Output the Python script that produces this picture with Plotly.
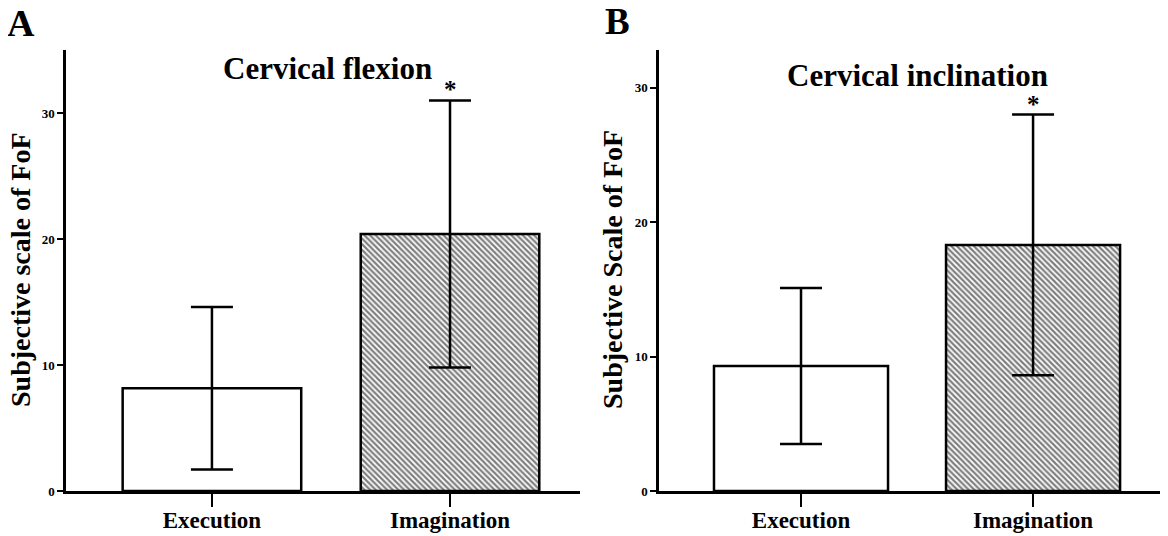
import plotly.graph_objects as go

conditions = ["Execution", "Imagination"]

# panel A - cervical flexion
flexion_mean = [8.15, 20.4]
flexion_sd = [6.45, 10.6]

# panel B - cervical inclination
inclination_mean = [9.3, 18.3]
inclination_sd = [5.8, 9.7]

y_ticks = [0, 10, 20, 30]

# the page body adds an 8px margin around the figure
OFF = 8
W, H = 1168 - OFF, 536 - OFF
serif = "Liberation Serif"


def px_x(p):
    return (p - OFF) / W


def px_y(p):
    return 1 - (p - OFF) / H


fig = go.Figure()

panels = [
    (flexion_mean, flexion_sd, "x", "y"),
    (inclination_mean, inclination_sd, "x2", "y2"),
]
for means, sds, xa, ya in panels:
    fig.add_trace(go.Bar(
        x=conditions, y=means, xaxis=xa, yaxis=ya, width=0.75,
        marker=dict(
            color="white",
            line=dict(color="black", width=2.5),
            pattern=dict(shape=["", "\\"], fgcolor="black", bgcolor="white",
                         size=4, solidity=0.55),
        ),
        error_y=dict(type="data", array=sds, color="black", thickness=2.5, width=21),
        showlegend=False,
    ))
    # significance star above the imagination error bar
    fig.add_annotation(x=conditions[1], y=means[1] + sds[1], xref=xa, yref=ya,
                       text="<b>*</b>", showarrow=False, yanchor="bottom", yshift=-5,
                       font=dict(family=serif, size=25, color="black"))

axis_common = dict(showline=True, linecolor="black", linewidth=2.5, showgrid=False,
                   zeroline=False, ticks="outside", tickcolor="black", tickwidth=1.5,
                   automargin=False)
x_common = dict(type="category", ticklen=13, ticklabelstandoff=-6,
                tickfont=dict(family=serif, size=23, weight="bold"), **axis_common)
y_common = dict(tickvals=y_ticks, ticklen=6,
                tickfont=dict(family=serif, size=13, weight="bold"), **axis_common)

fig.update_layout(
    width=W, height=H,
    margin=dict(l=0, r=0, t=0, b=0),
    paper_bgcolor="white", plot_bgcolor="white",
    font=dict(family=serif, color="black"),
    xaxis=dict(domain=[px_x(66), px_x(580)], anchor="y", range=[-0.613, 1.546], **x_common),
    yaxis=dict(domain=[px_y(491), px_y(50)], anchor="x", range=[0, 35], **y_common),
    xaxis2=dict(domain=[px_x(659), px_x(1163)], anchor="y2", range=[-0.612, 1.56], **x_common),
    yaxis2=dict(domain=[px_y(491), px_y(50)], anchor="x2", range=[0, 32.8], **y_common),
)

texts = [
    ("<b>A</b>", 21, 23, 38, 0),
    ("<b>B</b>", 617, 22, 37, 0),
    ("<b>Cervical flexion</b>", 327, 68, 31, 0),
    ("<b>Cervical inclination</b>", 917, 75, 31, 0),
    ("<b>Subjective scale of FoF</b>", 20, 270, 28, -90),
    ("<b>Subjective Scale of FoF</b>", 612, 270, 28, -90),
]
for txt, xp, yp, size, ang in texts:
    fig.add_annotation(x=px_x(xp), y=px_y(yp), xref="paper", yref="paper",
                       text=txt, showarrow=False, textangle=ang,
                       xanchor="center", yanchor="middle",
                       font=dict(family=serif, size=size, color="black"))

fig.write_html("out.html")
